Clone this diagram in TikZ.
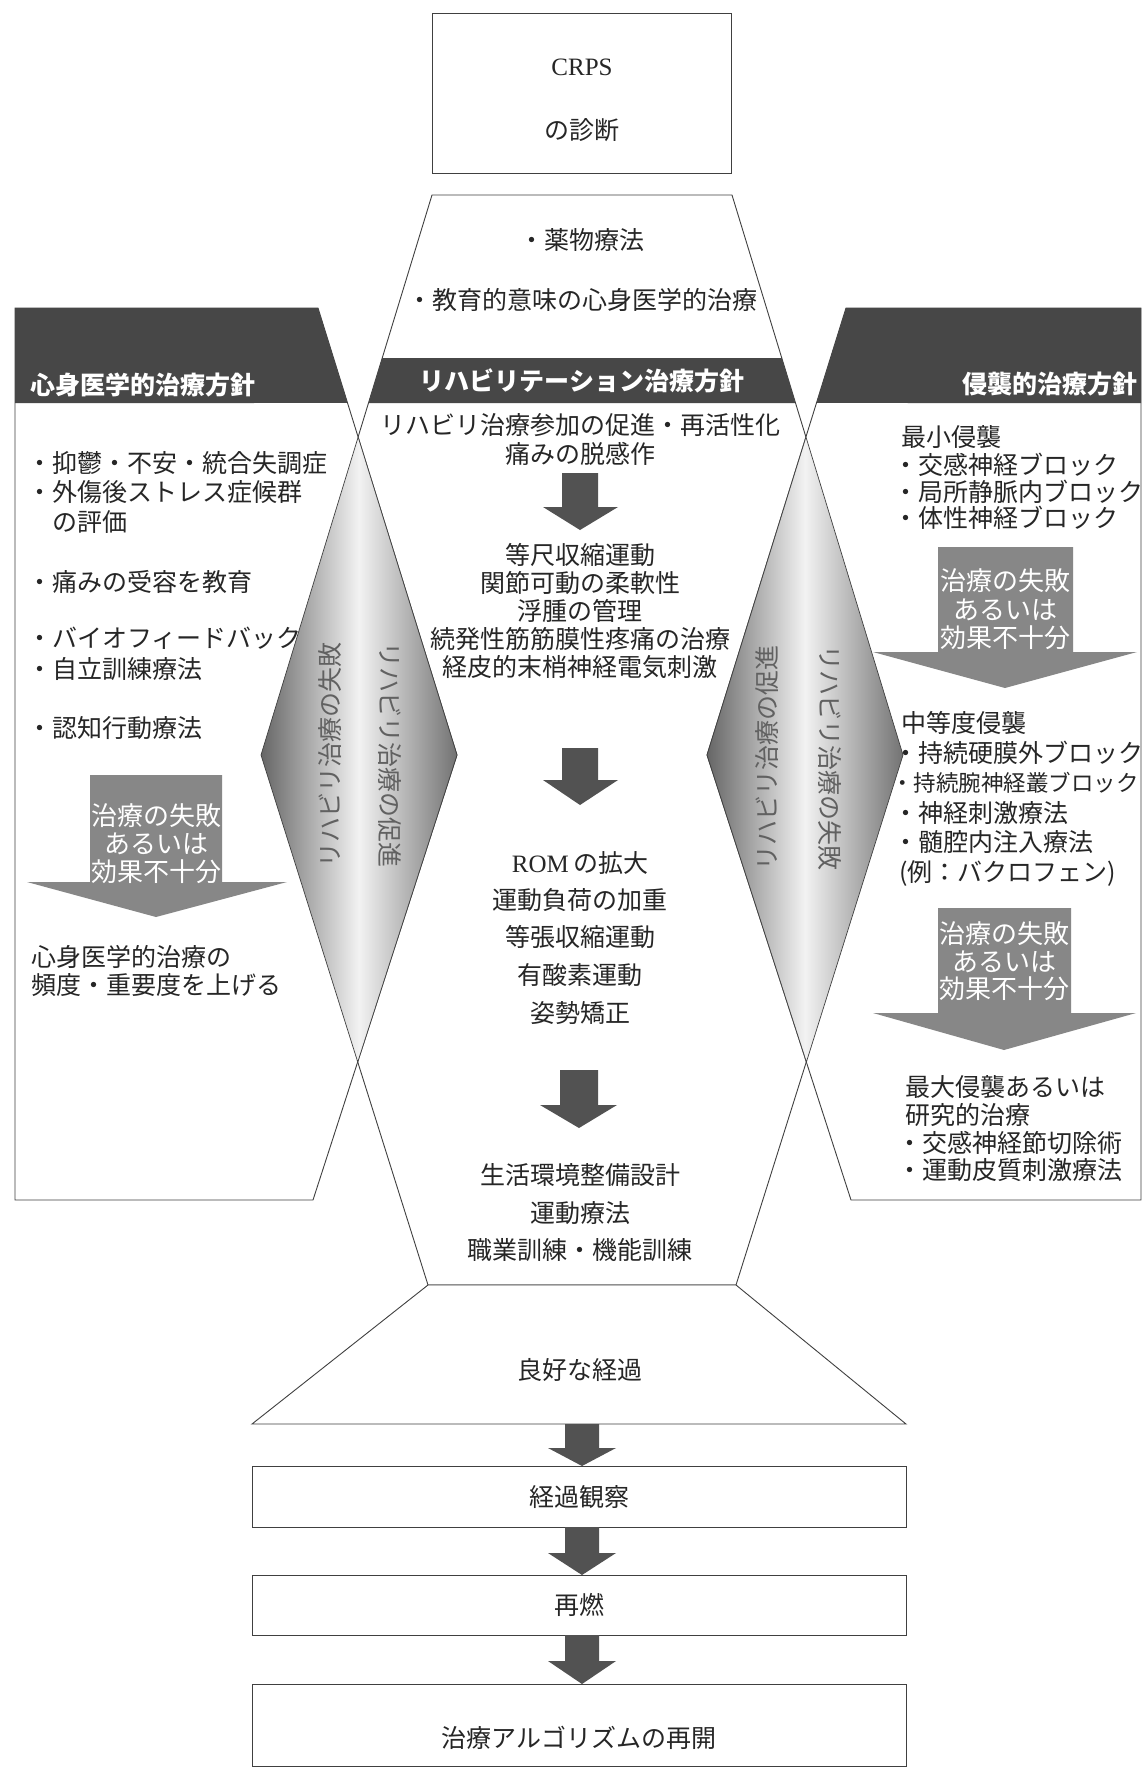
\documentclass[tikz,border=0pt]{standalone}
\usepackage{fontspec}
\setmainfont{Liberation Serif}
\newfontfamily\jp{Noto Sans CJK JP}
\tikzset{
  outline/.style={draw=black!75, line width=0.9pt, line join=miter},
  panel/.style={outline, fill=white},
  hdr/.style={fill=black!72},
  hdrtxt/.style={font=\jp\bfseries\fontsize{25}{30}\selectfont, text=white, inner sep=0pt, text height=22pt, text depth=3pt},
  txt/.style={font=\jp\fontsize{25}{30}\selectfont, text=black!85, inner sep=0pt, text height=22pt, text depth=3pt},
  ltxt/.style={txt, anchor=west},
  ctxt/.style={txt, anchor=center},
  garrow/.style={fill=black!47},
  gtxt/.style={font=\jp\fontsize{26}{30}\selectfont, text=white, inner sep=0pt, text height=23pt, text depth=3pt},
  darrow/.style={fill=black!68},
  vtxt/.style={font=\jp\fontsize{25}{30}\selectfont, text=black!62, inner sep=0pt, text height=22pt, text depth=3pt},
  diam/.style={left color=black!60, right color=black!55, middle color=black!5, draw=black!75, line width=0.7pt},
  boxnode/.style={ctxt, draw=black!75, line width=0.9pt, minimum width=654pt},
}
\begin{document}
\begin{tikzpicture}[x=1pt,y=-1pt]
\useasboundingbox[fill=white] (0,0) rectangle (1143,1769);
% key points
\coordinate (c1) at (432,195); \coordinate (c2) at (732,195);
\coordinate (c3) at (903,755); \coordinate (c4) at (736,1285);
\coordinate (c5) at (428,1285); \coordinate (c6) at (261,755);
\coordinate (l1) at (15,308); \coordinate (l2) at (318,308);
\coordinate (l3) at (457,755); \coordinate (l4) at (313,1200);
\coordinate (l5) at (15,1200);
\coordinate (r1) at (1141,308); \coordinate (r2) at (846,308);
\coordinate (r3) at (707,755); \coordinate (r4) at (851,1200);
\coordinate (r5) at (1141,1200);
% CRPS box
\draw[outline] (432,13) rectangle (731,173);
\node[txt, font=\fontsize{25}{30}\selectfont] (crps) at (582,66) {CRPS};
\node[ctxt] (diag) at (582,130) {の診断};
% panels
\draw[panel] (c1)--(c2)--(c3)--(c4)--(c5)--(c6)--cycle;
\draw[panel] (l1)--(l2)--(l3)--(l4)--(l5)--cycle;
\draw[panel] (r1)--(r2)--(r3)--(r4)--(r5)--cycle;
% diamonds
\coordinate (dlt) at (intersection of c1--c6 and l2--l3);
\coordinate (dlb) at (intersection of c6--c5 and l3--l4);
\coordinate (drt) at (intersection of c2--c3 and r2--r3);
\coordinate (drb) at (intersection of c3--c4 and r3--r4);
\draw[diam] (dlt)--(l3)--(dlb)--(c6)--cycle;
\draw[diam] (drt)--(c3)--(drb)--(r3)--cycle;
\node[vtxt, rotate=90] (dl1) at (330,755) {リハビリ治療の失敗};
\node[vtxt, rotate=-90] (dl2) at (390,755) {リハビリ治療の促進};
\node[vtxt, rotate=90] (dr1) at (767,758) {リハビリ治療の促進};
\node[vtxt, rotate=-90] (dr2) at (830,758) {リハビリ治療の失敗};
% headers
\coordinate (lh) at (intersection of l2--l3 and 0,403--100,403);
\coordinate (rh) at (intersection of r2--r3 and 0,403--100,403);
\coordinate (ch1) at (intersection of c1--c6 and 0,358--100,358);
\coordinate (ch2) at (intersection of c1--c6 and 0,403--100,403);
\coordinate (ch3) at (intersection of c2--c3 and 0,403--100,403);
\coordinate (ch4) at (intersection of c2--c3 and 0,358--100,358);
\fill[hdr] (l1)--(l2)--(lh)--(15,403)--cycle;
\fill[hdr] (r1)--(r2)--(rh)--(1141,403)--cycle;
\fill[hdr] (ch1)--(ch2)--(ch3)--(ch4)--cycle;
\node[hdrtxt, anchor=west] (hl) at (30,385) {心身医学的治療方針};
\node[hdrtxt, anchor=east] (hr) at (1138,384) {侵襲的治療方針};
\node[hdrtxt] (hc) at (582,381) {リハビリテーション治療方針};
% center top
\node[ctxt] (ct1) at (582,240) {・薬物療法};
\node[ctxt] (ct2) at (582,300) {・教育的意味の心身医学的治療};
% center column
\foreach \y/\t [count=\i] in {425/{リハビリ治療参加の促進・再活性化}, 454/{痛みの脱感作},
  555/{等尺収縮運動}, 583/{関節可動の柔軟性}, 611/{浮腫の管理}, 639/{続発性筋筋膜性疼痛の治療}, 667/{経皮的末梢神経電気刺激},
  863/{\fontspec{Liberation Serif}ROM\,\jp の拡大}, 900/{運動負荷の加重}, 937/{等張収縮運動}, 975/{有酸素運動}, 1013/{姿勢矯正},
  1175/{生活環境整備設計}, 1213/{運動療法}, 1250/{職業訓練・機能訓練}}
  {\node[ctxt] (cc\i) at (580,\y) {\t};}
\fill[darrow] (562,473)--(598,473)--(598,507)--(618,507)--(580,530)--(543,507)--(562,507)--cycle;
\fill[darrow] (562,748)--(598,748)--(598,780)--(618,780)--(580,805)--(543,780)--(562,780)--cycle;
\fill[darrow] (560,1070)--(598,1070)--(598,1105)--(617,1105)--(579,1128)--(540,1105)--(560,1105)--cycle;
% left panel text
\foreach \x/\y/\t [count=\i] in {27/463/{・抑鬱・不安・統合失調症}, 27/492/{・外傷後ストレス症候群}, 52/522/{の評価},
  27/582/{・痛みの受容を教育}, 27/638/{・バイオフィードバック}, 27/669/{・自立訓練療法}, 27/728/{・認知行動療法},
  31/957/{心身医学的治療の}, 31/985/{頻度・重要度を上げる}}
  {\node[ltxt] (lp\i) at (\x,\y) {\t};}
\fill[garrow] (90,775)--(222,775)--(222,882)--(287,882)--(156,917)--(27,882)--(90,882)--cycle;
\node[gtxt] (la1) at (156,815) {治療の失敗};
\node[gtxt] (la2) at (156,843) {あるいは};
\node[gtxt] (la3) at (156,871) {効果不十分};
% right panel text
\foreach \x/\y/\t [count=\i] in {901/437/{最小侵襲}, 893/465/{・交感神経ブロック}, 893/492/{・局所静脈内ブロック}, 893/518/{・体性神経ブロック},
  901/723/{中等度侵襲}, 893/753/{・持続硬膜外ブロック}, 893/813/{・神経刺激療法},
  893/842/{・髄腔内注入療法}, 899/872/{(例：バクロフェン)},
  905/1087/{最大侵襲あるいは}, 905/1115/{研究的治療}, 897/1143/{・交感神経節切除術}, 897/1170/{・運動皮質刺激療法}}
  {\node[ltxt] (rp\i) at (\x,\y) {\t};}
\node[ltxt, font=\jp\fontsize{22.5}{28}\selectfont] (rpx) at (891,782) {・持続腕神経叢ブロック};
\fill[garrow] (938,547)--(1073,547)--(1073,652)--(1137,652)--(1005,688)--(873,652)--(938,652)--cycle;
\node[gtxt] (ra1) at (1005,580) {治療の失敗};
\node[gtxt] (ra2) at (1005,609) {あるいは};
\node[gtxt] (ra3) at (1005,637) {効果不十分};
\fill[garrow] (938,908)--(1071,908)--(1071,1013)--(1136,1013)--(1004,1050)--(873,1013)--(938,1013)--cycle;
\node[gtxt] (rb1) at (1004,933) {治療の失敗};
\node[gtxt] (rb2) at (1004,961) {あるいは};
\node[gtxt] (rb3) at (1004,988) {効果不十分};
% bottom
\draw[panel] (c5)--(c4)--(906,1424)--(252,1424)--cycle;
\node[ctxt] (good) at (580,1370) {良好な経過};
\node[boxnode, minimum height=61pt] (obs) at (579,1496.5) {経過観察};
\node[boxnode, minimum height=60pt] (rel) at (579,1605) {再燃};
\node[draw=black!75, line width=0.9pt, minimum width=654pt, minimum height=82pt, inner sep=0pt] (rst) at (579,1725) {};
\node[ctxt] (rstt) at (579,1738) {治療アルゴリズムの再開};
\fill[darrow] (565,1424)--(599,1424)--(599,1448)--(616,1448)--(582,1466)--(548,1448)--(565,1448)--cycle;
\fill[darrow] (565,1527)--(599,1527)--(599,1553)--(616,1553)--(582,1575)--(548,1553)--(565,1553)--cycle;
\fill[darrow] (565,1635)--(599,1635)--(599,1661)--(616,1661)--(582,1684)--(548,1661)--(565,1661)--cycle;
\end{tikzpicture}
\end{document}
